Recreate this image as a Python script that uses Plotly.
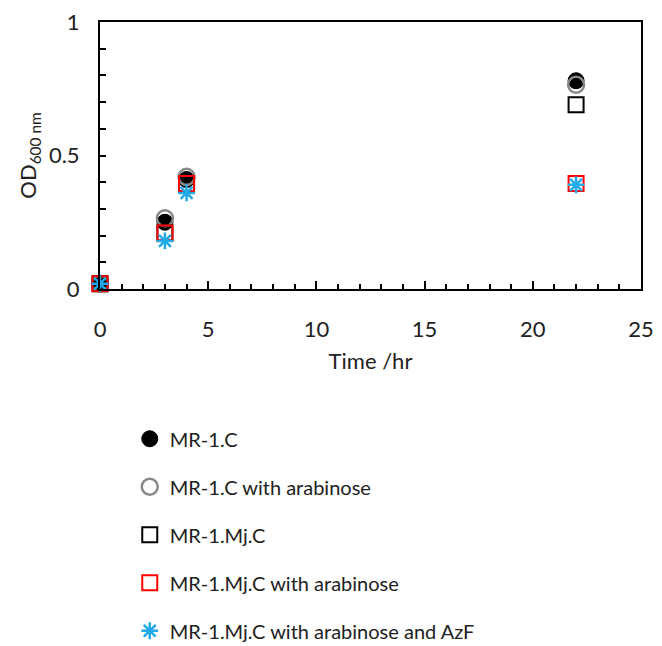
import plotly.graph_objects as go

time_hr = [0, 3, 4, 22]
mr1c = [0.02, 0.25, 0.41, 0.78]
mr1c_ara = [0.02, 0.265, 0.42, 0.765]
mr1mjc = [0.02, 0.21, 0.39, 0.69]
mr1mjc_ara = [0.02, 0.21, 0.395, 0.395]
mr1mjc_ara_azf = [0.02, 0.18, 0.36, 0.39]

names = ["MR-1.C", "MR-1.C with arabinose", "MR-1.Mj.C",
         "MR-1.Mj.C with arabinose", "MR-1.Mj.C with arabinose and AzF"]
series = [mr1c, mr1c_ara, mr1mjc, mr1mjc_ara, mr1mjc_ara_azf]
markers = [
    dict(symbol="circle", size=16, color="black", line=dict(color="black", width=1)),
    dict(symbol="circle-open", size=16, color="#888888", line=dict(color="#888888", width=2.5)),
    dict(symbol="square-open", size=15, color="black", line=dict(color="black", width=2)),
    dict(symbol="square-open", size=15, color="#FF0000", line=dict(color="#FF0000", width=2)),
    dict(symbol="asterisk-open", size=14, color="#22AAE8", line=dict(color="#22AAE8", width=2.5)),
]

fig = go.Figure()
for i, (n, s, m) in enumerate(zip(names, series, markers)):
    fig.add_trace(go.Scatter(x=time_hr, y=s, mode="markers", name=n, marker=m,
                             cliponaxis=False, legendgroup=f"g{i}"))

font = "Lato, 'Open Sans', sans-serif"
fig.update_layout(
    width=662, height=646,
    margin=dict(l=100, r=21, t=22, b=357, autoexpand=False),
    paper_bgcolor="white", plot_bgcolor="white",
    font=dict(family=font, color="#222222", size=20),
    legend=dict(x=0.055, xanchor="left", y=0.351, yanchor="top", yref="container",
                font=dict(size=20, color="#222222"), tracegroupgap=19,
                itemwidth=30, bgcolor="rgba(0,0,0,0)"),
    showlegend=True,
)
fig.update_xaxes(range=[0, 25], dtick=5, ticks="inside", ticklen=8, tickwidth=2,
                 tickcolor="black", showline=True, linecolor="black", linewidth=2,
                 mirror=True, showgrid=False, zeroline=False, ticklabelstandoff=20,
                 minor=dict(dtick=1, ticks="inside", ticklen=5, tickwidth=1.5, tickcolor="black"),
                 tickfont=dict(size=22), title=dict(text="Time /hr", font=dict(size=22), standoff=12))
fig.update_yaxes(range=[0, 1], dtick=0.5, ticks="inside", ticklen=6, tickwidth=2,
                 tickcolor="black", showline=True, linecolor="black", linewidth=2,
                 mirror=True, showgrid=False, zeroline=False, ticklabelstandoff=14,
                 minor=dict(dtick=0.1, ticks="inside", ticklen=6, tickwidth=1.5, tickcolor="black"),
                 tickfont=dict(size=22), title=dict(text="OD<sub>600 nm</sub>", font=dict(size=22), standoff=6))

fig.write_html("out.html")
